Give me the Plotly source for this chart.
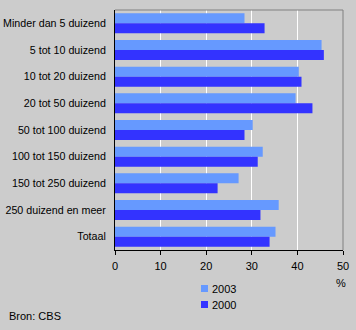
import plotly.graph_objects as go

categories = ["Minder dan 5 duizend", "5 tot 10 duizend", "10 tot 20 duizend",
              "20 tot 50 duizend", "50 tot 100 duizend", "100 tot 150 duizend",
              "150 tot 250 duizend", "250 duizend en meer", "Totaal"]
values_2003 = [28.4, 45.3, 40.3, 39.6, 30.2, 32.4, 27.1, 35.9, 35.2]
values_2000 = [32.8, 45.8, 40.9, 43.3, 28.4, 31.3, 22.5, 31.9, 33.9]
series_names = ["2003", "2000"]
series_colors = ["#6699ff", "#3333ff"]
x_ticks = [0, 10, 20, 30, 40, 50]

BG = "#cccccc"
FONT = "Liberation Sans, Arial, sans-serif"

W, H = 356, 330
L, R, T, B = 115, 13, 10, 80
PW, PH = W - L - R, H - T - B


def px_x(px):
    return (px - L) / PW


def px_y(py):
    return (H - B - py) / PH


fig = go.Figure()
for name, vals, col in zip(series_names, [values_2003, values_2000], series_colors):
    fig.add_trace(go.Bar(y=categories, x=vals, name=name, orientation="h",
                         marker=dict(color=col, line=dict(width=0)),
                         showlegend=False))

shapes = [
    dict(type="line", xref="paper", yref="paper", x0=0, x1=1, y0=1, y1=1,
         line=dict(color="#808080", width=1)),
    dict(type="line", xref="paper", yref="paper", x0=1, x1=1, y0=0, y1=1,
         line=dict(color="#808080", width=1)),
]
annotations = [
    dict(text="%", xref="paper", yref="paper", x=px_x(341), y=px_y(283),
         xanchor="center", yanchor="middle", showarrow=False, font=dict(size=11)),
    dict(text="Bron: CBS", xref="paper", yref="paper", x=px_x(7), y=px_y(316),
         xanchor="left", yanchor="middle", showarrow=False, font=dict(size=11)),
]
# legend (manual, to match compact swatch layout)
for i, (name, col) in enumerate(zip(series_names, series_colors)):
    cy = 288.5 + 16 * i
    shapes.append(dict(type="rect", xref="paper", yref="paper",
                       x0=px_x(201), x1=px_x(208), y0=px_y(cy - 3.5), y1=px_y(cy + 3.5),
                       fillcolor=col, line=dict(width=0)))
    annotations.append(dict(text=name, xref="paper", yref="paper", x=px_x(210),
                            y=px_y(cy), xanchor="left", yanchor="middle",
                            showarrow=False, font=dict(size=11)))

fig.update_layout(
    width=W, height=H,
    margin=dict(l=L, r=R, t=T, b=B, autoexpand=False),
    paper_bgcolor=BG, plot_bgcolor=BG,
    font=dict(family=FONT, size=11, color="#000000"),
    barmode="group", bargap=0.25, bargroupgap=0,
    showlegend=False,
    xaxis=dict(range=[0, 50], tickvals=x_ticks, ticktext=[str(t) for t in x_ticks],
               showgrid=True, gridcolor="#ffffff", gridwidth=1,
               showline=True, linecolor="#000000", linewidth=1,
               ticks="outside", ticklen=4, tickcolor="#000000",
               ticklabelstandoff=2,
               zeroline=False, fixedrange=True, automargin=False),
    yaxis=dict(categoryorder="array", categoryarray=categories, autorange="reversed",
               showline=True, linecolor="#000000", linewidth=1,
               ticks="", showgrid=False, ticklabelstandoff=6,
               tickfont=dict(size=10.7),
               fixedrange=True, automargin=False),
    shapes=shapes,
    annotations=annotations,
)

fig.write_html("out.html")
